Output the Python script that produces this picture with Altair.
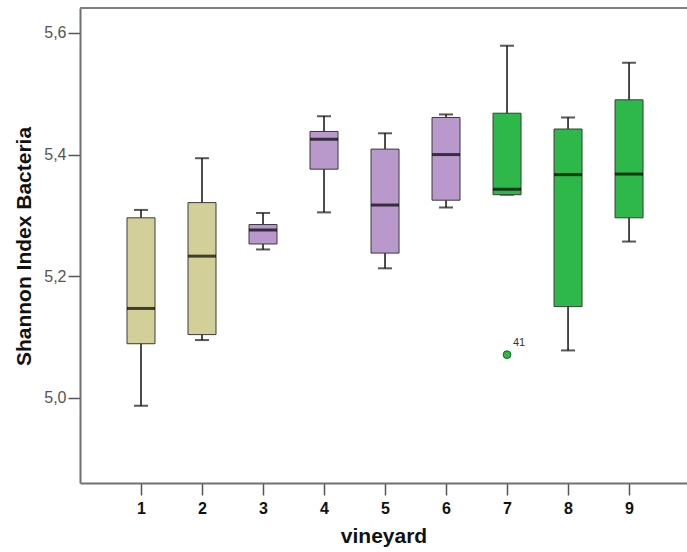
import altair as alt
import pandas as pd

vineyard = [1, 2, 3, 4, 5, 6, 7, 8, 9]
group = ["A", "A", "B", "B", "B", "B", "C", "C", "C"]
w_low = [4.987, 5.095, 5.244, 5.305, 5.213, 5.313, 5.334, 5.078, 5.257]
q1 = [5.089, 5.104, 5.253, 5.376, 5.238, 5.325, 5.334, 5.150, 5.296]
median = [5.147, 5.233, 5.276, 5.425, 5.317, 5.400, 5.343, 5.367, 5.368]
q3 = [5.296, 5.321, 5.285, 5.438, 5.409, 5.461, 5.468, 5.442, 5.490]
w_high = [5.309, 5.394, 5.304, 5.463, 5.435, 5.466, 5.579, 5.461, 5.551]

out_vineyard = [7]
out_value = [5.071]
out_label = ["41"]
out_group = ["C"]

group_domain = ["A", "B", "C"]
group_colors = ["#D3CF98", "#B999CB", "#2EB84A"]

df = pd.DataFrame({
    "vineyard": vineyard, "group": group, "lo": w_low, "q1": q1,
    "med": median, "q3": q3, "hi": w_high,
})
odf = pd.DataFrame({"vineyard": out_vineyard, "value": out_value,
                    "label": out_label, "group": out_group})

FONT = "Liberation Sans"
xs = alt.Scale(domain=[0, 9.95], nice=False, zero=False, padding=0)
ys = alt.Scale(domain=[4.86, 5.641], nice=False, zero=False, padding=0)
cs = alt.Scale(domain=group_domain, range=group_colors)

x_enc = alt.X("vineyard:Q", scale=xs, title="vineyard",
              axis=alt.Axis(values=vineyard, format="d", grid=False,
                            tickSize=12, tickColor="#555555", tickWidth=1.5,
                            domainColor="#707070", domainWidth=2,
                            labelFont=FONT, labelFontSize=16, labelFontWeight="bold",
                            labelColor="#111111", labelPadding=5,
                            titleFont=FONT, titleFontSize=21, titleFontWeight="bold",
                            titleColor="#111111", titlePadding=9))
y_enc = alt.Y("lo:Q", scale=ys, title="Shannon Index Bacteria",
              axis=alt.Axis(values=[5.0, 5.2, 5.4, 5.6], grid=False,
                            labelExpr="replace(format(datum.value, '.1f'), '.', ',')",
                            tickSize=12, tickColor="#555555", tickWidth=1.5,
                            domainColor="#707070", domainWidth=2,
                            labelFont=FONT, labelFontSize=16, labelColor="#555555",
                            labelPadding=2,
                            titleFont=FONT, titleFontSize=21, titleFontWeight="bold",
                            titleColor="#111111", titleX=-50, titleY=238,
                            titleBaseline="alphabetic"))

base = alt.Chart(df)

whisker = base.mark_rule(color="#111111", strokeWidth=1.5).encode(
    x=x_enc, y=y_enc, y2="hi:Q")
cap_lo = base.mark_tick(orient="horizontal", size=14, thickness=2, color="#111111").encode(
    x="vineyard:Q", y=alt.Y("lo:Q"))
cap_hi = base.mark_tick(orient="horizontal", size=14, thickness=2, color="#111111").encode(
    x="vineyard:Q", y=alt.Y("hi:Q"))
box = base.mark_bar(size=28, stroke="#3a3a3a", strokeWidth=1).encode(
    x="vineyard:Q", y=alt.Y("q1:Q"), y2="q3:Q",
    color=alt.Color("group:N", scale=cs, legend=None))
med = base.mark_tick(orient="horizontal", size=28, thickness=3, color="#000000").encode(
    x="vineyard:Q", y=alt.Y("med:Q"))

outliers = alt.Chart(odf).mark_point(filled=True, size=60, stroke="#1b5e2a",
                                     strokeWidth=1, opacity=1).encode(
    x="vineyard:Q", y=alt.Y("value:Q"),
    fill=alt.Fill("group:N", scale=cs, legend=None))
out_text = alt.Chart(odf).mark_text(font=FONT, fontSize=11, color="#333333",
                                    dx=12, dy=-12).encode(
    x="vineyard:Q", y=alt.Y("value:Q"), text="label:N")

top_line = alt.Chart(df).mark_rule(color="#808080", strokeWidth=2).encode(
    x=alt.value(0), x2=alt.value(607), y=alt.value(0))

chart = alt.layer(whisker, cap_lo, cap_hi, box, med, outliers, out_text, top_line).properties(
    width=607, height=475,
    autosize=alt.AutoSizeParams(type="none"),
    padding={"left": 80, "top": 8, "right": 0, "bottom": 69},
    background="white",
).configure_view(stroke=None)

chart.save("out.html", embed_options={"renderer": "svg", "actions": False})
